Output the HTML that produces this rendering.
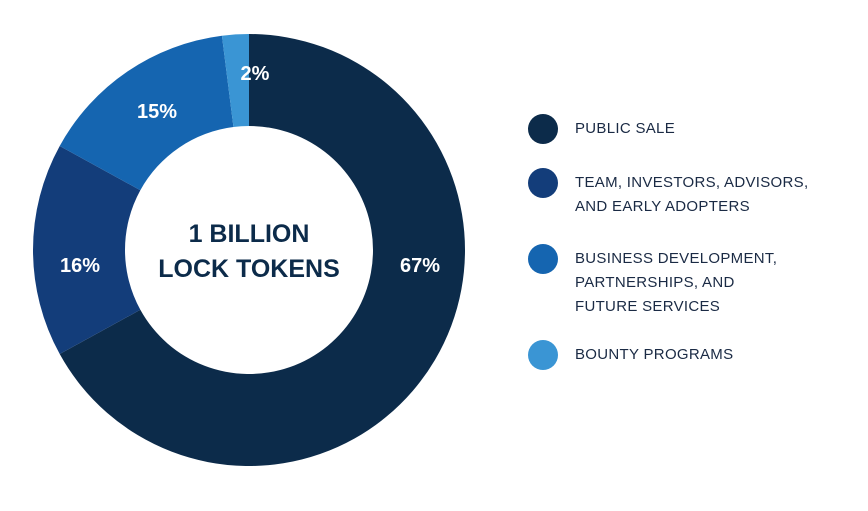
<!DOCTYPE html>
<html><head><meta charset="utf-8"><style>
html,body{margin:0;padding:0;background:#fff;width:868px;height:511px;overflow:hidden;font-family:"Liberation Sans",sans-serif}
.leg{position:absolute;left:575px;font-size:15px;color:#1a2a44;line-height:24px;letter-spacing:0.3px}
</style></head><body>
<svg id="chart" width="868" height="511" style="position:absolute;left:0;top:0"></svg>
<script>
const categories=["PUBLIC SALE","TEAM, INVESTORS, ADVISORS, AND EARLY ADOPTERS","BUSINESS DEVELOPMENT, PARTNERSHIPS, AND FUTURE SERVICES","BOUNTY PROGRAMS"];
const values=[67,16,15,2];
const labels=["67%","16%","15%","2%"];
const colors=["#0c2b4a","#133d7a","#1565b0","#3a95d4"];
const legendLines=[["PUBLIC SALE"],["TEAM, INVESTORS, ADVISORS,","AND EARLY ADOPTERS"],["BUSINESS DEVELOPMENT,","PARTNERSHIPS, AND","FUTURE SERVICES"],["BOUNTY PROGRAMS"]];
const svg=document.getElementById('chart');
const NS='http://www.w3.org/2000/svg';
const cx=249,cy=250,R=216,r=124;
const total=values.reduce((a,b)=>a+b,0);
function pt(a,rad){return [cx+rad*Math.sin(a),cy-rad*Math.cos(a)];}
let acc=0;
const labelPos=[[420,265],[80,265],[157,111],[255,73]];
values.forEach((v,i)=>{
  const a0=acc/total*2*Math.PI; acc+=v; const a1=acc/total*2*Math.PI;
  const big=(a1-a0)>Math.PI?1:0;
  const [x0,y0]=pt(a0,R),[x1,y1]=pt(a1,R),[x2,y2]=pt(a1,r),[x3,y3]=pt(a0,r);
  const p=document.createElementNS(NS,'path');
  p.setAttribute('d',`M${x0},${y0}A${R},${R} 0 ${big} 1 ${x1},${y1}L${x2},${y2}A${r},${r} 0 ${big} 0 ${x3},${y3}Z`);
  p.setAttribute('fill',colors[i]);
  
  
  svg.appendChild(p);
  const t=document.createElementNS(NS,'text');
  t.setAttribute('x',labelPos[i][0]);t.setAttribute('y',labelPos[i][1]+7);
  t.setAttribute('text-anchor','middle');t.setAttribute('fill','#fff');
  t.setAttribute('font-size','20');t.setAttribute('font-weight','bold');
  t.setAttribute('font-family','Liberation Sans, sans-serif');
  t.textContent=labels[i];
  
  
  svg.appendChild(t);
});
[["1 BILLION",242],["LOCK TOKENS",277]].forEach((l,k)=>{
  const t=document.createElementNS(NS,'text');
  t.setAttribute('x',cx);t.setAttribute('y',l[1]);t.setAttribute('text-anchor','middle');
  t.setAttribute('fill','#0c2b4a');t.setAttribute('font-size','25');t.setAttribute('font-weight','bold');
  t.setAttribute('font-family','Liberation Sans, sans-serif');
  t.textContent=l[0];
  
  
  svg.appendChild(t);
});
const legY=[129,183,259,355];
categories.forEach((c,i)=>{
  const ci=document.createElementNS(NS,'circle');
  ci.setAttribute('cx',543);ci.setAttribute('cy',legY[i]);ci.setAttribute('r',15);ci.setAttribute('fill',colors[i]);
  
  
  svg.appendChild(ci);
  const d=document.createElement('div');
  d.className='leg';
  d.style.top=(legY[i]-12)+'px';
  d.innerHTML=legendLines[i].join('<br>');
  
  
  document.body.appendChild(d);
});
</script>
</body></html>
